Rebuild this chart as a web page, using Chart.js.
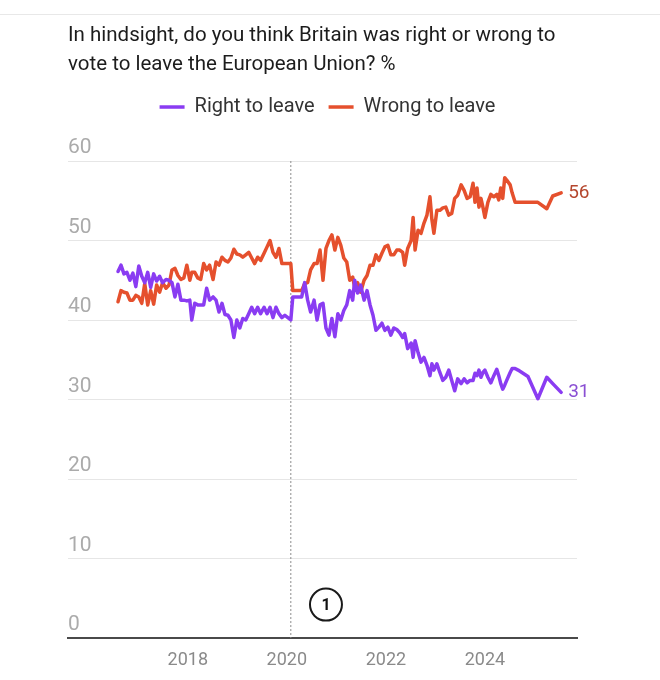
<!DOCTYPE html>
<html>
<head>
<meta charset="utf-8">
<title>Right or wrong to leave the EU</title>
<script src="https://cdn.jsdelivr.net/npm/chart.js"></script>
<style>
  html, body { margin: 0; padding: 0; background: #fff; }
  .topline { position: absolute; top: 14px; left: 0; width: 660px; height: 1px; background: #e8e8e8; }
  canvas { display: block; }
</style>
</head>
<body>
<div class="topline"></div>
<canvas id="brexitChart" width="660" height="680"></canvas>

<script>
// poll dates as decimal years
const pollDates = [
  2016.59, 2016.65, 2016.71, 2016.77, 2016.83, 2016.89, 2016.95, 2017.01, 2017.07, 2017.13,
  2017.19, 2017.25, 2017.31, 2017.37, 2017.43, 2017.49, 2017.56, 2017.62, 2017.68, 2017.74,
  2017.80, 2017.86, 2017.92, 2017.98, 2018.04, 2018.08, 2018.14, 2018.20, 2018.26, 2018.32,
  2018.38, 2018.44, 2018.51, 2018.57, 2018.63, 2018.69, 2018.75, 2018.81, 2018.87, 2018.93,
  2018.99, 2019.05, 2019.11, 2019.17, 2019.23, 2019.29, 2019.35, 2019.41, 2019.47, 2019.54,
  2019.60, 2019.66, 2019.72, 2019.78, 2019.84, 2019.90, 2019.96, 2020.02, 2020.08, 2020.12,
  2020.18, 2020.24, 2020.30, 2020.36, 2020.42, 2020.48, 2020.55, 2020.61, 2020.67, 2020.73,
  2020.79, 2020.85, 2020.91, 2020.97, 2021.03, 2021.09, 2021.15, 2021.21, 2021.27, 2021.33,
  2021.37, 2021.43, 2021.49, 2021.56, 2021.62, 2021.68, 2021.74, 2021.80, 2021.86, 2021.92,
  2021.98, 2022.04, 2022.10, 2022.16, 2022.22, 2022.28, 2022.34, 2022.38, 2022.44, 2022.51,
  2022.55, 2022.59, 2022.65, 2022.71, 2022.77, 2022.83, 2022.89, 2022.93, 2022.97, 2023.03,
  2023.09, 2023.15, 2023.21, 2023.27, 2023.33, 2023.39, 2023.45, 2023.52, 2023.58, 2023.64,
  2023.70, 2023.76, 2023.80, 2023.84, 2023.88, 2023.92, 2023.96, 2024.00, 2024.06, 2024.12,
  2024.18, 2024.24, 2024.28, 2024.32, 2024.36, 2024.40, 2024.44, 2024.51, 2024.55, 2024.61,
  2024.67, 2024.87, 2025.07, 2025.25, 2025.37, 2025.54
];

const rightToLeave = [
  46.1, 46.9, 45.8, 46.0, 45.0, 45.9, 44.2, 46.8, 45.5, 44.7,
  46.0, 44.1, 45.8, 44.9, 45.5, 44.7, 45.1, 45.0, 44.7, 42.9,
  44.5, 42.5, 42.5, 42.4, 42.5, 40.0, 42.1, 41.9, 41.9, 41.9,
  44.0, 42.5, 42.9, 42.5, 41.0, 42.1, 40.7, 40.6, 40.0, 37.8,
  40.0, 39.0, 40.2, 40.0, 40.8, 41.6, 40.8, 41.6, 40.8, 41.6,
  40.8, 41.6, 40.3, 41.6, 40.8, 40.3, 40.6, 40.3, 40.0, 42.9,
  42.9, 42.9, 42.9, 44.7, 42.5, 41.0, 42.5, 40.0, 41.9, 42.1,
  39.0, 38.1, 40.2, 37.9, 40.8, 40.0, 41.2, 41.9, 43.7, 42.5,
  45.0, 43.4, 44.4, 42.5, 43.7, 41.9, 40.6, 38.7, 39.1, 39.6,
  38.7, 39.1, 38.1, 39.0, 38.8, 38.4, 37.8, 38.3, 36.4, 37.1,
  35.3, 37.4, 35.9, 34.7, 35.3, 34.3, 33.0, 34.5, 33.7, 34.5,
  33.4, 32.4, 32.8, 33.7, 32.4, 31.1, 32.6, 32.0, 32.6, 32.1,
  32.4, 32.4, 33.3, 33.0, 33.7, 32.8, 33.4, 33.7, 32.8, 32.1,
  33.0, 33.8, 33.0, 32.0, 31.3, 31.8, 32.4, 33.4, 33.9, 33.9,
  33.7, 32.9, 30.1, 32.8, 32.0, 30.9
];

const wrongToLeave = [
  42.3, 43.7, 43.5, 43.4, 42.5, 42.5, 43.1, 42.9, 42.1, 44.6,
  41.9, 43.7, 42.0, 44.4, 43.5, 44.7, 44.0, 44.4, 46.3, 46.5,
  45.6, 45.1, 45.3, 46.9, 45.0, 46.0, 46.0, 45.3, 45.1, 47.1,
  46.3, 46.9, 45.1, 47.3, 46.9, 47.9, 47.5, 47.3, 47.8, 48.9,
  48.3, 48.2, 47.9, 48.2, 48.5, 47.8, 47.1, 47.9, 47.5, 48.4,
  49.2, 50.0, 48.5, 47.9, 49.0, 47.1, 47.1, 47.1, 47.1, 43.7,
  43.7, 43.7, 43.7, 44.6, 44.7, 46.3, 47.1, 47.1, 48.8, 45.0,
  49.0, 50.0, 50.7, 48.8, 50.4, 49.4, 47.8, 47.3, 45.0, 45.4,
  44.1, 44.7, 43.5, 45.0, 45.6, 46.9, 46.9, 48.2, 47.5, 48.4,
  49.2, 49.4, 48.2, 48.2, 48.8, 48.8, 48.5, 46.9, 49.0, 50.0,
  52.9, 48.8, 51.3, 50.9, 52.2, 53.2, 55.5, 52.6, 50.9, 53.8,
  53.8, 54.1, 54.2, 53.2, 53.4, 55.3, 55.7, 57.0, 56.3, 55.3,
  55.5, 57.2, 54.8, 56.6, 54.2, 55.3, 54.2, 52.9, 54.8, 55.8,
  55.5, 55.8, 55.1, 56.6, 55.3, 57.9, 57.6, 57.0, 56.0, 54.8,
  54.8, 54.8, 54.8, 54.0, 55.6, 56.0
];

const seriesNames = ['Right to leave', 'Wrong to leave'];
const yearTicks = [2018, 2020, 2022, 2024];
const titleLines = [
  'In hindsight, do you think Britain was right or wrong to',
  'vote to leave the European Union? %'
];
const brexitDay = 2020.08;   // dashed marker (UK leaves the EU)
const noteMark = { x: 2020.79, y: 4.2, text: '1' };

const purple = '#8a3cf2';
const orange = '#e5502d';
const font = 'Roboto, "Noto Sans", sans-serif';

function points(values) {
  return pollDates.map((d, i) => ({ x: d, y: values[i] }));
}

// extra room under the legend, and nudge it a little right
const legendGap = {
  id: 'legendGap',
  beforeInit(chart) {
    const fit = chart.legend.fit;
    chart.legend.fit = function () {
      fit.call(this);
      this.height += 34;
    };
  },
  afterLayout(chart) {
    chart.legend.left += 5;
    chart.legend.right += 5;
  }
};

const markers = {
  id: 'markers',
  beforeDatasetsDraw(chart) {
    const { ctx, chartArea, scales: { x } } = chart;
    const bx = x.getPixelForValue(brexitDay);
    ctx.save();
    ctx.strokeStyle = '#8c8c8c';
    ctx.lineWidth = 1;
    ctx.setLineDash([2, 2]);
    ctx.beginPath();
    ctx.moveTo(bx, chartArea.top);
    ctx.lineTo(bx, chartArea.bottom);
    ctx.stroke();
    ctx.restore();
  },
  afterDatasetsDraw(chart) {
    const { ctx, scales: { x, y } } = chart;
    ctx.save();
    // end-of-line values
    const labelColors = ['#8a4fd3', '#b5472e'];
    ctx.font = '19px ' + font;
    ctx.textBaseline = 'middle';
    ctx.textAlign = 'left';
    chart.data.datasets.forEach((ds, i) => {
      const meta = chart.getDatasetMeta(i);
      const last = meta.data[meta.data.length - 1];
      const v = ds.data[ds.data.length - 1].y;
      ctx.fillStyle = labelColors[i];
      ctx.fillText(String(Math.round(v)), last.x + 7, last.y);
    });
    // circled note
    const cx = x.getPixelForValue(noteMark.x);
    const cy = y.getPixelForValue(noteMark.y);
    ctx.beginPath();
    ctx.arc(cx, cy, 16, 0, Math.PI * 2);
    ctx.fillStyle = '#fff';
    ctx.fill();
    ctx.lineWidth = 2;
    ctx.strokeStyle = '#1a1a1a';
    ctx.stroke();
    ctx.fillStyle = '#111';
    ctx.font = 'bold 16px ' + font;
    ctx.textAlign = 'center';
    ctx.fillText(noteMark.text, cx, cy + 1);
    ctx.restore();
  }
};

new Chart(document.getElementById('brexitChart'), {
  type: 'line',
  data: {
    datasets: [
      {
        label: seriesNames[0], data: points(rightToLeave),
        borderColor: purple, backgroundColor: purple,
        pointBorderColor: purple, pointBorderWidth: 3.5
      },
      {
        label: seriesNames[1], data: points(wrongToLeave),
        borderColor: orange, backgroundColor: orange,
        pointBorderColor: orange, pointBorderWidth: 3.5
      }
    ]
  },
  options: {
    responsive: false,
    animation: false,
    devicePixelRatio: 1,
    layout: { padding: { left: 68, right: 83, top: 0, bottom: 0 } },
    elements: {
      line: { borderWidth: 3.5, tension: 0, borderJoinStyle: 'round', borderCapStyle: 'round' },
      point: { radius: 0 }
    },
    plugins: {
      tooltip: { enabled: false },
      title: {
        display: true,
        align: 'start',
        text: titleLines,
        color: '#1c1c1c',
        font: { size: 20.5, family: font, weight: 'normal', lineHeight: 1.415 },
        padding: { top: 21, bottom: 4 }
      },
      legend: {
        position: 'top',
        labels: {
          usePointStyle: true,
          pointStyle: 'line',
          pointStyleWidth: 25,
          color: '#333',
          font: { size: 20, family: font },
          padding: 14
        }
      }
    },
    scales: {
      x: {
        type: 'linear',
        min: 2015.58,
        max: 2025.86,
        afterBuildTicks: scale => {
          scale.ticks = yearTicks.map(v => ({ value: v }));
        },
        afterFit: scale => {
          scale.height = 42;
        },
        grid: { display: false, drawTicks: false },
        border: { display: true, color: '#4a4a4a', width: 2 },
        ticks: {
          callback: v => String(v),
          color: '#8a8a8a',
          font: { size: 18, family: font },
          padding: 12,
          maxRotation: 0
        }
      },
      y: {
        min: 0,
        max: 60,
        grid: { color: '#e6e6e6', lineWidth: 1, drawTicks: false },
        border: { display: false },
        ticks: {
          stepSize: 10,
          mirror: true,
          padding: 0,
          labelOffset: -13,
          color: '#ababab',
          font: { size: 21, family: font }
        }
      }
    }
  },
  plugins: [legendGap, markers]
});
</script>
</body>
</html>
